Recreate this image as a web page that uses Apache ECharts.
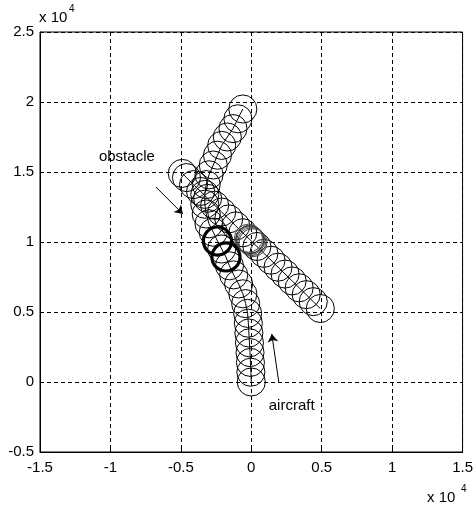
<!DOCTYPE html>
<html>
<head>
<meta charset="utf-8">
<script src="https://cdn.jsdelivr.net/npm/echarts@6/dist/echarts.min.js"></script>
<style>html,body{margin:0;padding:0;background:#fff}#c{width:476px;height:505px}</style>
</head>
<body>
<div id="c"></div>
<script>
// ---- data (raw units; axis labels shown in units of 10^4) ----
const circleRadius = 1000;
const aircraftX = [0,-30,-60,-90,-130,-170,-210,-260,-400,-600,-900,-1250,-1550,-1800,-2100,-2400,-2700,-3000,-3200,-3300,-3300,-3200,-3000,-2700,-2400,-2100,-1700,-1300,-950,-600];
const aircraftY = [0,700,1400,2100,2800,3500,4200,4900,5600,6300,7000,7650,8300,8930,9500,10070,10700,11300,12000,12700,13400,14100,14800,15500,16200,16900,17500,18100,18800,19500];
const obstacleX = [4900,4400,3900,3400,2900,2400,1900,1400,900,400,-100,-600,-1100,-1600,-2100,-2600,-3100,-3600,-4100,-4600,-4900];
const obstacleY = [5250,5740,6240,6730,7220,7710,8200,8700,9190,9680,10170,10660,11150,11650,12140,12630,13120,13610,14100,14600,14900];
const conflictX = [-2400,-1800];
const conflictY = [10070,8930];
const clusterX = [-200,-120,-40,40,120];
const clusterY = [10270,10190,10110,10030,9950];
const labelTexts = ['obstacle','aircraft'];
const labelX = [-10816,1241];
const labelY = [16071,-1714];
const arrowFrom = [[-6773,13929],[1950,0]];
const arrowTo = [[-4858,12000],[1454,3430]];

function zip(xs, ys){ return xs.map((x,i)=>[x, ys[i]]); }

const FONT = 'Liberation Sans, Arial, sans-serif';

function circleRenderer(color, width){
  return function(params, api){
    const c = api.coord([api.value(0), api.value(1)]);
    const s = api.size([circleRadius, circleRadius]);
    return {type:'circle', shape:{cx:c[0], cy:c[1], r:(s[0]+s[1])/2},
      style:{fill:'none', stroke:color, lineWidth:width}};
  };
}

const chart = echarts.init(document.getElementById('c'), null, {renderer:'canvas'});
const axisCommon = {
  type:'value', interval:5000,
  axisLine:{show:true, onZero:false, lineStyle:{color:'#000', width:1}},
  axisTick:{show:true, inside:true, length:4, lineStyle:{color:'#000'}},
  splitLine:{show:true, lineStyle:{color:'#000', type:[4,3], width:1}},
  axisLabel:{color:'#000', fontFamily:FONT, fontSize:15, formatter:v=>String(v/10000)}
};
chart.setOption({
  backgroundColor:'#fff',
  animation:false,
  grid:{left:40, right:13, top:32, bottom:53, show:true, borderColor:'#000', borderWidth:1, backgroundColor:'#fff'},
  xAxis:Object.assign({}, axisCommon, {min:-15000, max:15000, axisLabel:Object.assign({}, axisCommon.axisLabel, {margin:8})}),
  yAxis:Object.assign({}, axisCommon, {min:-5000, max:25000, axisLabel:Object.assign({}, axisCommon.axisLabel, {margin:6})}),
  series:[
    {type:'line', data:zip(obstacleX, obstacleY), showSymbol:false, lineStyle:{color:'#000', width:1}, z:3},
    {type:'line', data:zip(aircraftX, aircraftY), showSymbol:false, lineStyle:{color:'#000', width:1}, z:3},
    {type:'custom', data:zip(obstacleX, obstacleY), renderItem:circleRenderer('#000',1), z:4},
    {type:'custom', data:zip(aircraftX, aircraftY), renderItem:circleRenderer('#000',1), z:4},
    {type:'custom', data:zip(clusterX, clusterY), renderItem:circleRenderer('#444',1), z:5},
    {type:'custom', data:zip(conflictX, conflictY), renderItem:circleRenderer('#000',3.2), z:6},
    {type:'lines', coordinateSystem:'cartesian2d', z:7,
      data:arrowFrom.map((f,i)=>({coords:[f, arrowTo[i]]})),
      symbol:['none','arrow'], symbolSize:[0,8],
      lineStyle:{color:'#000', width:1, opacity:1}},
    {type:'custom', z:8,
      data:labelTexts.map((t,i)=>[labelX[i], labelY[i], t]),
      renderItem:function(params, api){
        const c = api.coord([api.value(0), api.value(1)]);
        return {type:'text', x:c[0], y:c[1], style:{text:labelTexts[params.dataIndex], fill:'#000',
          font:'15px '+FONT, textAlign:'left', textVerticalAlign:'middle'}};
      }}
  ],
  graphic:[
    {type:'text', left:39, top:10, style:{text:'x 10', fill:'#000', font:'15px '+FONT}},
    {type:'text', left:69, top:4, style:{text:'4', fill:'#000', font:'10px '+FONT}},
    {type:'text', left:427, top:490, style:{text:'x 10', fill:'#000', font:'15px '+FONT}},
    {type:'text', left:461, top:484, style:{text:'4', fill:'#000', font:'10px '+FONT}}
  ]
});
</script>
</body>
</html>
